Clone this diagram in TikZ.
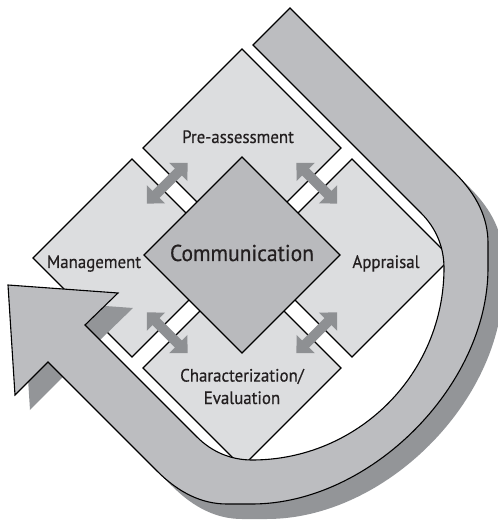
\documentclass[tikz,border=0pt]{standalone}
\usepackage{fontspec}
\setmainfont{PT Sans}[FakeStretch=0.94, FakeBold=0.5]
\usetikzlibrary{shapes.geometric,arrows.meta,calc}

\definecolor{boxgray}{HTML}{DCDDDF}
\definecolor{hubgray}{HTML}{B9BABD}
\definecolor{bandgray}{HTML}{BCBDC0}
\definecolor{shadowgray}{HTML}{939598}
\definecolor{linkgray}{HTML}{8E9093}
\definecolor{ink}{HTML}{231F20}

% U-shaped return arrow: inner edge, head, outer edge
\newcommand{\returnband}{(11,213) -- (179,45)
    .. controls (194,30) and (202,11) .. (202,-10)
    .. controls (202,-116) and (116,-202) .. (10,-202)
    .. controls (-11,-202) and (-30,-194) .. (-45,-179)
    -- (-157,-67) -- (-124,-35) -- (-234,-27) -- (-227,-137) -- (-194,-104)
    -- (-85,-213)
    .. controls (-63,-235) and (-40,-246) .. (-15,-246)
    -- (10,-246)
    .. controls (128,-246) and (246,-128) .. (246,-10)
    -- (246,15)
    .. controls (246,40) and (235,63) .. (213,85)
    -- (48,250) -- cycle}

\tikzset{
    phase/.style={diamond, aspect=1, draw, fill=boxgray, line width=1.1bp,
        minimum size=198bp, inner sep=0pt, outer sep=0pt},
    hub/.style={phase, fill=hubgray, minimum size=196bp},
    lbl/.style={font=\fontsize{18}{22.5}\selectfont, text=ink, inner sep=0pt,
        anchor=base, align=center},
    link/.style={draw=linkgray, line width=10bp,
        {Triangle[length=13bp,width=25bp]}-{Triangle[length=13bp,width=25bp]},
        shorten <=-21bp, shorten >=-21bp},
}

\begin{document}
\begin{tikzpicture}[x=1bp, y=1bp]
    \useasboundingbox (-242,-266) rectangle (256,258);
    % Phases
    \node[phase] (pre)  at (0,110)  {};
    \node[phase] (appr) at (110,0)  {};
    \node[phase] (char) at (0,-110) {};
    \node[phase] (mgmt) at (-110,0) {};
    \node[hub]   (comm) at (0,3)    {};
    % Two-way links across the gaps
    \draw[link] ($(mgmt.north)!.3!(mgmt.east)$) -- ($(pre.west)!.3!(pre.south)$);
    \draw[link] ($(pre.east)!.3!(pre.south)$) -- ($(appr.north)!.3!(appr.west)$);
    \draw[link] ($(appr.south)!.3!(appr.west)$) -- ($(char.east)!.3!(char.north)$);
    \draw[link] ($(char.west)!.3!(char.north)$) -- ($(mgmt.south)!.3!(mgmt.east)$);
    % Labels
    \node[lbl] (pre-t)  at (-4,115)  {Pre-assessment};
    \node[lbl] (appr-t) at (144,-10) {Appraisal};
    \node[lbl] (mgmt-t) at (-148,-10) {Management};
    \node[lbl] (char-t) at (0,-146) {Characterization/\\Evaluation};
    \node[lbl, font=\fontsize{23}{28}\selectfont] (comm-t) at (0,-3) {Communication};
    % Return arrow with its shadow
    \fill[shadowgray, shift={(15,-15)}] \returnband;
    \filldraw[fill=bandgray, line width=1.1bp] \returnband;
\end{tikzpicture}
\end{document}
